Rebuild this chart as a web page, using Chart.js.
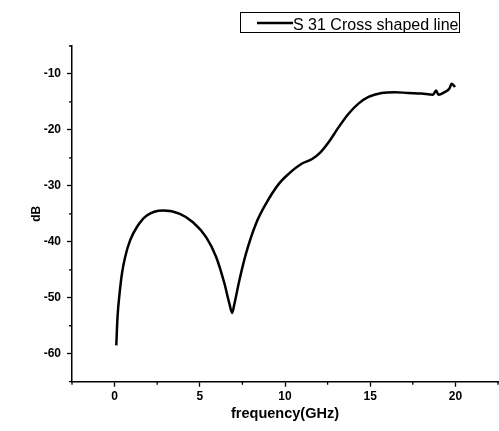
<!DOCTYPE html>
<html>
<head>
<meta charset="utf-8">
<script src="https://cdn.jsdelivr.net/npm/chart.js@4/dist/chart.umd.min.js"></script>
<style>
  html, body { margin: 0; padding: 0; background: #fff; overflow: hidden; }
  #wrap { width: 499px; height: 431px; overflow: hidden; }
</style>
</head>
<body>
<div id="wrap"><canvas id="chart" width="501" height="431"></canvas></div>
<script>
// S31 data
const seriesLabel = 'S 31 Cross shaped line';
const freq = [0.1, 0.17, 0.29, 0.43, 0.62, 0.91, 1.3, 1.89, 2.85, 3.83, 4.6, 5.38, 5.96, 6.45, 6.74, 6.9, 7.03, 7.32, 7.71, 8.29, 8.88, 9.65, 10.23, 11.0, 11.59, 12.08, 12.56, 13.15, 13.73, 14.31, 14.9, 15.67, 16.45, 17.22, 18.0, 18.68, 18.87, 19.0, 19.36, 19.65, 19.78, 19.9, 19.97];
const s31 = [-58.5, -53.5, -49.3, -45.7, -42.7, -39.75, -37.4, -35.3, -34.4, -35.0, -36.5, -39.2, -42.7, -47.5, -51.1, -52.7, -51.1, -46.9, -42.1, -36.8, -33.2, -29.6, -27.8, -26.0, -25.2, -24.0, -22.2, -19.5, -17.1, -15.3, -14.1, -13.4, -13.25, -13.4, -13.5, -13.7, -12.95, -13.7, -13.25, -12.6, -11.75, -12.05, -12.35];
const xLabelTicks = [0, 5, 10, 15, 20];
const yLabelTicks = [-60, -50, -40, -30, -20, -10];

const fontFamily = "'Liberation Sans', Arial, sans-serif";

// Short minor ticks
const minorTicks = {
    id: 'minorTicks',
    afterDraw(chart) {
        const { ctx, scales: { x, y } } = chart;
        ctx.save();
        ctx.strokeStyle = '#000';
        ctx.lineWidth = 1.3;
        ctx.beginPath();
        x.ticks.forEach(t => {
            if (!xLabelTicks.includes(t.value)) {
                const px = x.getPixelForValue(t.value);
                ctx.moveTo(px, x.top);
                ctx.lineTo(px, x.top + 3);
            }
        });
        y.ticks.forEach(t => {
            if (!yLabelTicks.includes(t.value)) {
                const py = y.getPixelForValue(t.value);
                ctx.moveTo(y.right, py);
                ctx.lineTo(y.right - 3, py);
            }
        });
        ctx.stroke();
        ctx.restore();
    }
};

// Boxed legend at top right
const boxLegend = {
    id: 'boxLegend',
    afterDraw(chart) {
        const ctx = chart.ctx;
        const ds = chart.data.datasets[0];
        ctx.save();
        ctx.strokeStyle = '#000';
        ctx.lineWidth = 1;
        ctx.strokeRect(240.5, 12.5, 219, 20);
        ctx.lineWidth = 2.5;
        ctx.beginPath();
        ctx.moveTo(257, 23);
        ctx.lineTo(293, 23);
        ctx.stroke();
        ctx.fillStyle = '#000';
        ctx.font = `16px ${fontFamily}`;
        ctx.textBaseline = 'alphabetic';
        ctx.fillText(ds.label, 293, 29.5);
        ctx.restore();
    }
};

const isMajor = (list) => (c) => (c.tick && list.includes(c.tick.value)) ? '#000' : 'rgba(0,0,0,0)';

new Chart(document.getElementById('chart'), {
    type: 'scatter',
    data: {
        datasets: [{
            label: seriesLabel,
            data: freq.map((f, i) => ({ x: f, y: s31[i] })),
            showLine: true,
            borderColor: '#000',
            borderWidth: 2.5,
            pointRadius: 0,
            cubicInterpolationMode: 'monotone'
        }]
    },
    options: {
        responsive: false,
        animation: false,
        layout: { padding: { top: 46, left: 0, right: 0, bottom: 0 } },
        plugins: {
            legend: { display: false },
            tooltip: { enabled: false }
        },
        scales: {
            x: {
                type: 'linear',
                min: -2.5,
                max: 22.5,
                afterFit: (scale) => { scale.height = 49.3; },
                ticks: {
                    stepSize: 2.5,
                    autoSkip: false,
                    maxRotation: 0,
                    padding: 3,
                    color: '#000',
                    font: { family: fontFamily, size: 12, weight: 'bold' },
                    callback: (v) => xLabelTicks.includes(v) ? String(v) : ''
                },
                grid: {
                    drawOnChartArea: false,
                    drawTicks: true,
                    tickLength: 5,
                    tickWidth: 1.3,
                    tickColor: isMajor(xLabelTicks)
                },
                border: { display: true, color: '#000', width: 1.5 },
                title: {
                    display: true,
                    text: 'frequency(GHz)',
                    color: '#000',
                    font: { family: fontFamily, size: 14.5, weight: 'bold' },
                    padding: { top: 0, bottom: 8 }
                }
            },
            y: {
                type: 'linear',
                min: -65,
                max: -5,
                afterFit: (scale) => { scale.width = 72; },
                ticks: {
                    stepSize: 5,
                    autoSkip: false,
                    padding: 6,
                    color: '#000',
                    font: { family: fontFamily, size: 12, weight: 'bold' },
                    callback: (v) => yLabelTicks.includes(v) ? String(v) : ''
                },
                grid: {
                    drawOnChartArea: false,
                    drawTicks: true,
                    tickLength: 5,
                    tickWidth: 1.3,
                    tickColor: isMajor(yLabelTicks)
                },
                border: { display: true, color: '#000', width: 1.5 },
                title: {
                    display: true,
                    text: 'dB',
                    color: '#000',
                    font: { family: fontFamily, size: 12, weight: 'bold' },
                    padding: { top: 29, bottom: 0 }
                }
            }
        }
    },
    plugins: [minorTicks, boxLegend]
});
</script>
</body>
</html>
